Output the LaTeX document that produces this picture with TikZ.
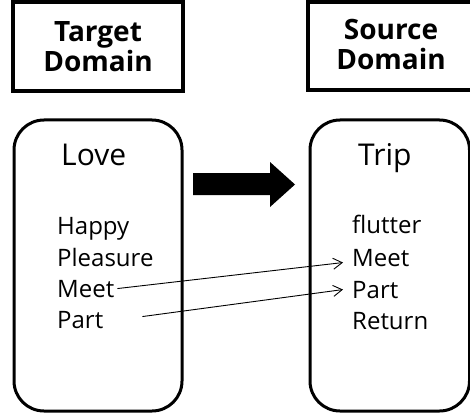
\documentclass[tikz,border=0pt]{standalone}
\usepackage{fontspec}
\setmainfont{Open Sans}
\usetikzlibrary{arrows.meta}
\tikzset{
  titletext/.style={align=center, inner sep=0pt, font=\fontsize{28}{30}\selectfont\bfseries},
  titleframe/.style={draw, line width=3.5pt},
  domainbox/.style={draw, line width=3pt, rounded corners=30pt},
  headword/.style={anchor=base west, inner sep=0pt, font=\fontsize{30}{32}\selectfont},
  item/.style={anchor=base west, inner sep=1pt, font=\fontsize{24}{31}\selectfont},
  mapline/.style={line width=0.9pt, -{Straight Barb[length=9pt,width=11pt,line width=0.9pt]}},
}
\begin{document}
\begin{tikzpicture}[x=1pt,y=-1pt]
\useasboundingbox (0,0) rectangle (470,414);
% title boxes
\draw[titleframe] (13,2) rectangle (183,91);
\draw[titleframe] (308,2) rectangle (485,90);
\node[titletext] (tgt) at (98,47) {Target\\Domain};
\node[titletext] (src) at (391,45) {Source\\Domain};
% domain boxes
\draw[domainbox] (14,120) rectangle (182,411);
\draw[domainbox] (310,120) rectangle (469.5,411);
\node[headword] (love) at (61,165) {Love};
\node[headword] (trip) at (358,165) {Trip};
% left items
\node[item] (lhappy) at (56,234) {Happy};
\node[item] (lpleas) at (56,266) {Pleasure};
\node[item] (lmeet)  at (56,297) {Meet};
\node[item] (lpart)  at (56,328) {Part};
% right items
\node[item] (rflut) at (351,233) {flutter};
\node[item] (rmeet) at (351,266) {Meet};
\node[item] (rpart) at (351,298) {Part};
\node[item] (rret)  at (351,329) {Return};
% big arrow
\fill (193,173) -- (270,173) -- (270,162) -- (295,184.5) -- (270,207) -- (270,195) -- (193,195) -- cycle;
% mapping lines
\coordinate (s1) at ([xshift=2pt]lmeet.east);
\coordinate (e1) at ([shift={(-8pt,-5pt)}]rmeet.west);
\coordinate (s2) at ([shift={(38pt,3pt)}]lpart.east);
\coordinate (e2) at ([xshift=-8pt]rpart.west);
\draw[mapline] (s1) -- (e1);
\draw[mapline] (s2) -- (e2);
\end{tikzpicture}
\end{document}
